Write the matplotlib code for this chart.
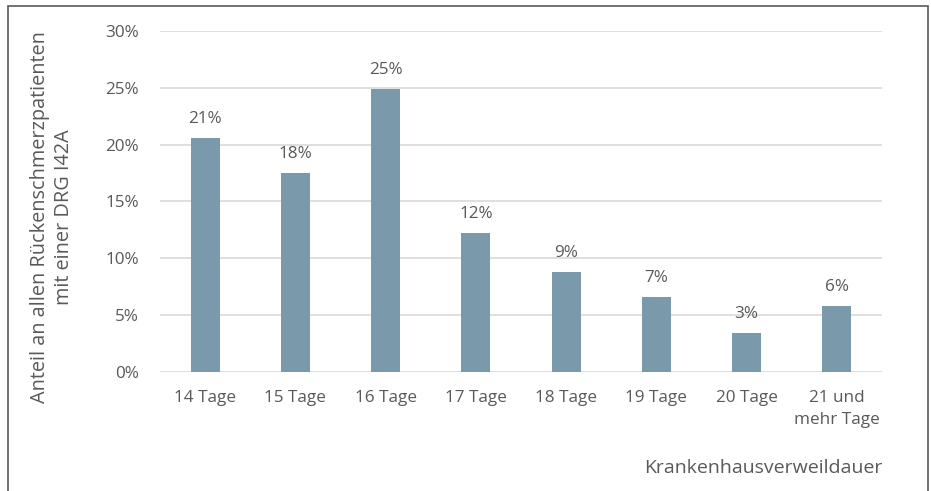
import matplotlib
matplotlib.use("Agg")
import matplotlib.pyplot as plt
from matplotlib.patches import Rectangle
from matplotlib.ticker import FuncFormatter

categories = ["14 Tage", "15 Tage", "16 Tage", "17 Tage", "18 Tage", "19 Tage", "20 Tage", "21 und\nmehr Tage"]
values = [20.6, 17.5, 24.9, 12.2, 8.75, 6.6, 3.4, 5.8]
labels = ["21%", "18%", "25%", "12%", "9%", "7%", "3%", "6%"]
yticks = [0, 5, 10, 15, 20, 25, 30]

W, H = 931, 491
fig = plt.figure(figsize=(W / 100, H / 100), dpi=100)
plt.rcParams['font.family'] = ['Open Sans', 'DejaVu Sans']
txt = '#595959'

ax = fig.add_axes([160 / W, 1 - 371.7 / H, 722 / W, (371.7 - 31.2) / H])
x = list(range(len(categories)))
bars = ax.bar(x, values, width=0.32, color='#7a99aa', zorder=3)
for xi, v, l in zip(x, values, labels):
    ax.annotate(l, (xi, v), xytext=(0, 11), textcoords='offset pixels',
                ha='center', va='bottom', fontsize=12.3, color=txt)

ax.set_xlim(-0.5, len(categories) - 0.5)
ax.set_ylim(0, 30)
ax.set_yticks(yticks)
ax.yaxis.set_major_formatter(FuncFormatter(lambda v, p: f"{int(v)}%"))
ax.set_xticks(x)
ax.set_xticklabels(categories, fontsize=12.3, color=txt, linespacing=1.55, va='top')
ax.tick_params(axis='x', length=0, pad=13)
ax.tick_params(axis='y', length=0, pad=15, labelsize=12.3, labelcolor=txt)
ax.grid(axis='y', color='#d9d9d9', linewidth=1.2, zorder=0)
for s in ax.spines.values():
    s.set_visible(False)

fig.text(52 / W, 1 - 217 / H, "Anteil an allen Rückenschmerzpatienten\nmit einer DRG I42A",
         rotation=90, ha='center', va='center', fontsize=14.3, color=txt, linespacing=1.3)
fig.text(882 / W, 1 - 468 / H, "Krankenhausverweildauer", ha='right', va='center',
         fontsize=14, color=txt)

fig.patches.append(Rectangle((8 / W, -0.02), 920 / W, 1.02 - 5.5 / H, transform=fig.transFigure,
                             fill=False, edgecolor='#595959', linewidth=1.2))

fig.savefig("out.png", dpi=100)
